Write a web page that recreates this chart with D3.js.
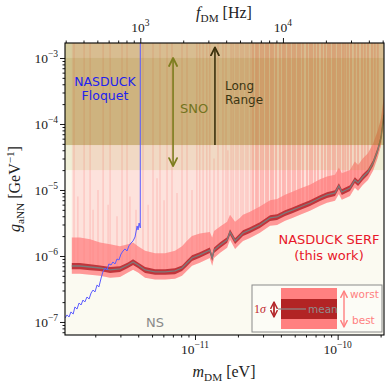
<!DOCTYPE html>
<html><head><meta charset="utf-8">
<script src="https://cdn.jsdelivr.net/npm/d3@7"></script>
<style>body{margin:0;background:#fff}</style>
</head><body><svg id="c" width="389" height="384"></svg>
<script>
// ---------------- data ----------------
const serfMass = [1.37e-12,1.56e-12,1.84e-12,2.16e-12,2.54e-12,2.98e-12,3.39e-12,3.68e-12,3.99e-12,4.47e-12,5.25e-12,6.17e-12,7.24e-12,8.11e-12,8.79e-12,9.53e-12,1.08e-11,1.27e-11,1.32e-11,1.36e-11,1.50e-11,1.68e-11,1.76e-11,1.91e-11,2.07e-11,2.17e-11,2.43e-11,2.85e-11,3.36e-11,3.76e-11,4.28e-11,4.86e-11,5.45e-11,6.40e-11,7.52e-11,8.42e-11,9.58e-11,1.02e-10,1.07e-10,1.22e-10,1.32e-10,1.39e-10,1.50e-10,1.63e-10,1.77e-10,1.91e-10,2.01e-10,2.11e-10];
const serfMean = [7.05e-7,7.05e-7,6.81e-7,6.58e-7,6.14e-7,6.36e-7,7.31e-7,8.11e-7,7.31e-7,6.14e-7,5.73e-7,5.73e-7,5.93e-7,6.58e-7,7.83e-7,9.33e-7,1.04e-6,1.23e-6,9.33e-7,1.23e-6,1.47e-6,1.75e-6,2.31e-6,1.69e-6,2.01e-6,2.23e-6,2.48e-6,2.95e-6,3.77e-6,3.90e-6,4.49e-6,4.98e-6,5.52e-6,6.35e-6,7.57e-6,8.40e-6,9.01e-6,1.15e-5,9.33e-6,1.07e-5,1.42e-5,1.28e-5,1.57e-5,1.87e-5,2.56e-5,4.04e-5,6.14e-5,1.37e-4];
const serfSigHi = [7.8e-7,7.8e-7,7.5e-7,7.2e-7,6.8e-7,7.0e-7,8.0e-7,8.9e-7,8.0e-7,6.8e-7,6.3e-7,6.3e-7,6.5e-7,7.2e-7,8.6e-7,1.03e-6,1.14e-6,1.35e-6,1.03e-6,1.35e-6,1.62e-6,1.93e-6,2.54e-6,1.86e-6,2.21e-6,2.45e-6,2.73e-6,3.25e-6,4.15e-6,4.29e-6,4.94e-6,5.48e-6,6.07e-6,6.99e-6,8.33e-6,9.24e-6,9.91e-6,1.27e-5,1.03e-5,1.18e-5,1.56e-5,1.41e-5,1.73e-5,2.06e-5,2.82e-5,4.44e-5,6.75e-5,1.51e-4];
const serfSigLo = [6.3e-7,6.3e-7,6.1e-7,5.9e-7,5.5e-7,5.7e-7,6.6e-7,7.3e-7,6.6e-7,5.5e-7,5.2e-7,5.2e-7,5.3e-7,5.9e-7,7.0e-7,8.4e-7,9.4e-7,1.11e-6,8.4e-7,1.11e-6,1.32e-6,1.58e-6,2.08e-6,1.52e-6,1.81e-6,2.01e-6,2.23e-6,2.66e-6,3.39e-6,3.51e-6,4.04e-6,4.48e-6,4.97e-6,5.72e-6,6.81e-6,7.56e-6,8.11e-6,1.04e-5,8.4e-6,9.63e-6,1.28e-5,1.15e-5,1.41e-5,1.68e-5,2.30e-5,3.64e-5,5.53e-5,1.23e-4];
const serfBest = [5.4e-7,5.4e-7,5.2e-7,5.0e-7,4.7e-7,4.8e-7,5.6e-7,6.2e-7,5.6e-7,4.7e-7,4.4e-7,4.4e-7,4.5e-7,5.0e-7,6.0e-7,7.1e-7,7.9e-7,9.3e-7,7.1e-7,9.3e-7,1.12e-6,1.33e-6,1.76e-6,1.28e-6,1.53e-6,1.69e-6,1.88e-6,2.24e-6,2.87e-6,2.96e-6,3.41e-6,3.78e-6,4.20e-6,4.83e-6,5.75e-6,6.38e-6,6.85e-6,8.7e-6,7.1e-6,8.1e-6,1.08e-5,9.7e-6,1.19e-5,1.42e-5,1.95e-5,3.07e-5,4.67e-5,1.04e-4];
const serfWorst = [1.9e-6,1.9e-6,1.8e-6,1.6e-6,1.5e-6,1.4e-6,1.5e-6,1.6e-6,1.4e-6,1.2e-6,1.1e-6,1.1e-6,1.2e-6,1.4e-6,1.7e-6,2.0e-6,2.2e-6,2.3e-6,1.9e-6,2.4e-6,2.8e-6,3.3e-6,4.2e-6,3.3e-6,3.8e-6,4.2e-6,4.7e-6,5.6e-6,7.0e-6,7.3e-6,8.5e-6,9.5e-6,1.05e-5,1.2e-5,1.45e-5,1.6e-5,1.7e-5,2.2e-5,1.8e-5,2.0e-5,2.7e-5,2.4e-5,3.0e-5,3.6e-5,5.0e-5,8.0e-5,1.2e-4,2.6e-4];
const spikeMass = [1.42e-12,1.51e-12,1.67e-12,1.84e-12,1.93e-12,2.09e-12,2.27e-12,2.46e-12,2.54e-12,2.84e-12,3.08e-12,3.34e-12,3.50e-12,3.86e-12,4.32e-12,4.69e-12,5.08e-12,5.42e-12,5.69e-12,6.07e-12,6.37e-12,6.90e-12,7.48e-12,8.11e-12,8.79e-12,9.53e-12,1.03e-11,1.08e-11,1.14e-11,1.21e-11,1.27e-11,1.36e-11,1.45e-11,1.57e-11,1.65e-11,1.70e-11,1.79e-11,1.85e-11,1.94e-11,2.00e-11,2.10e-11,2.17e-11,2.28e-11,2.35e-11,2.47e-11,2.55e-11,2.68e-11,2.76e-11,2.90e-11,3.00e-11,3.15e-11,3.25e-11,3.41e-11,3.52e-11,3.70e-11,3.94e-11,4.14e-11,4.27e-11,4.49e-11,4.63e-11,4.86e-11,5.02e-11,5.27e-11,5.44e-11,5.71e-11,6.10e-11,6.40e-11,6.61e-11,6.93e-11,7.28e-11,7.76e-11,8.15e-11,8.55e-11,8.83e-11,9.27e-11,9.57e-11,1.005e-10,1.04e-10,1.09e-10,1.13e-10,1.18e-10,1.24e-10,1.32e-10,1.39e-10,1.48e-10,1.55e-10,1.63e-10,1.74e-10,1.82e-10,1.91e-10];
const spikeTop = [2e-3,8e-6,2e-3,2e-3,5e-6,1e-5,2e-3,6e-6,2e-3,4e-6,2e-3,2e-3,8e-6,5e-6,2e-3,6e-6,2e-3,1.5e-5,2e-3,7e-6,2e-3,2e-3,9e-6,2e-3,2e-3,1e-5,2e-3,2e-3,2e-3,2e-3,2e-3,3e-5,2e-3,2e-3,2e-3,4e-5,2e-3,2e-3,2e-3,2e-3,2e-3,2e-3,2e-3,2e-3,2e-3,2e-3,2e-3,2e-3,2e-3,2e-3,2e-3,2e-3,2e-3,2e-3,2e-3,2e-3,2e-3,2e-3,2e-3,2e-3,2e-3,2e-3,2e-3,2e-3,2e-3,2e-3,2e-3,2e-3,2e-3,2e-3,2e-3,2e-3,2e-3,2e-3,2e-3,2e-3,2e-3,2e-3,2e-3,2e-3,2e-3,2e-3,2e-3,2e-3,2e-3,2e-3,2e-3,2e-3,2e-3,2e-3];
const floquetMass = [1.227e-12,1.268e-12,1.31e-12,1.35e-12,1.40e-12,1.44e-12,1.49e-12,1.54e-12,1.59e-12,1.64e-12,1.69e-12,1.75e-12,1.81e-12,1.87e-12,1.93e-12,1.99e-12,2.06e-12,2.12e-12,2.19e-12,2.26e-12,2.34e-12,2.42e-12,2.49e-12,2.58e-12,2.66e-12,2.75e-12,2.84e-12,2.93e-12,3.03e-12,3.13e-12,3.23e-12,3.34e-12,3.44e-12,3.56e-12,3.68e-12,3.80e-12,3.93e-12,3.99e-12,4.06e-12,4.136e-12,4.136e-12];
const floquetG = [1.15e-7,1.28e-7,1.19e-7,1.42e-7,1.32e-7,1.69e-7,1.57e-7,1.94e-7,1.81e-7,2.15e-7,2.01e-7,2.39e-7,2.23e-7,2.75e-7,3.05e-7,2.85e-7,3.64e-7,3.39e-7,4.49e-7,5.73e-7,6.58e-7,6.14e-7,7.57e-7,7.31e-7,8.11e-7,7.57e-7,9.01e-7,8.70e-7,1.07e-6,1.19e-6,1.28e-6,1.19e-6,1.42e-6,1.57e-6,1.69e-6,1.94e-6,2.85e-6,2.48e-6,3.16e-6,2.66e-6,2e-3];
const snoLimit = 2.0e-5;
const longRangeLimit = 4.8e-5;
const upperRef = 1e-3;
const snoArrow = {m: 7.02e-12, from: 1.0e-3, to: 2.3e-5};
const longRangeArrow = {m: 1.38e-11, from: 4.8e-5, to: 1.45e-3};
const xTicks = [1e-11, 1e-10];
const xTickExp = ["\u221211", "\u221210"];
const fTicks = [1e3, 1e4];
const fTickExp = ["3", "4"];
const yTicks = [1e-7, 1e-6, 1e-5, 1e-4, 1e-3];
const yTickExp = ["\u22127", "\u22126", "\u22125", "\u22124", "\u22123"];
const hzPerEv = 2.418e14;
const massDomain = [1.227e-12, 2.113e-10];
const gDomain = [6.35e-8, 1.687e-3];

// ---------------- layout ----------------
const L = 65, R = 384, T = 43, B = 335;
const svg = d3.select('#c');
const x = d3.scaleLog().domain(massDomain).range([L, R]);
const fx = d3.scaleLog().domain(massDomain.map(m => m * hzPerEv)).range([L, R]);
const y = d3.scaleLog().domain(gDomain).range([B, T]);
const serif = "'Liberation Serif', 'DejaVu Serif', serif";
const sans = "'DejaVu Sans', sans-serif";

const defs = svg.append('defs');
defs.append('clipPath').attr('id', 'clip').append('rect')
  .attr('x', L).attr('y', T).attr('width', R - L).attr('height', B - T);
function marker(id, color, w, h) {
  defs.append('marker').attr('id', id).attr('viewBox', '0 0 10 10')
    .attr('refX', 9).attr('refY', 5).attr('markerWidth', w).attr('markerHeight', h)
    .attr('orient', 'auto-start-reverse').attr('markerUnits', 'userSpaceOnUse')
    .append('path').attr('d', 'M1,1 L9,5 L1,9').attr('fill', 'none')
    .attr('stroke', color).attr('stroke-width', 1.8).attr('stroke-linecap', 'round').attr('stroke-linejoin', 'round');
}
marker('mSno', '#7d7d1e', 10, 10);
marker('mLr', '#3b300c', 10, 10);
marker('mDark', '#b3262a', 8, 8);
marker('mLight', '#ff8080', 8, 8);

svg.append('rect').attr('x', L).attr('y', T).attr('width', R - L).attr('height', B - T).attr('fill', '#fbfaf1');

const g = svg.append('g').attr('clip-path', 'url(#clip)');
const idx = d3.range(serfMass.length);
const topVal = gDomain[1] * 1.5;

// pale pink region above the limit
g.append('path').attr('fill', '#fde2dc')
  .attr('d', d3.area().x(i => x(serfMass[i])).y0(i => y(serfBest[i])).y1(() => y(topVal))(idx));

// spikes (worst-case excursions)
const lm = serfMass.map(Math.log10), lg = serfMean.map(Math.log10);
function meanAt(m) {
  const v = Math.log10(m);
  let j = d3.bisectRight(lm, v) - 1; j = Math.max(0, Math.min(lm.length - 2, j));
  const t = (v - lm[j]) / (lm[j + 1] - lm[j]);
  return Math.pow(10, lg[j] + t * (lg[j + 1] - lg[j]));
}
g.selectAll('line.spike').data(d3.range(spikeMass.length)).join('line')
  .attr('x1', i => x(spikeMass[i])).attr('x2', i => x(spikeMass[i]))
  .attr('y1', i => y(meanAt(spikeMass[i]))).attr('y2', i => y(Math.min(spikeTop[i], topVal)))
  .attr('stroke', '#ff6f6f')
  .attr('stroke-width', i => spikeMass[i] > 2.5e-11 ? 2 : 1.5)
  .attr('stroke-opacity', i => spikeMass[i] > 2.5e-11 ? 0.36 : 0.22);

// worst-best band
g.append('path').attr('fill', '#ff7b7b').attr('fill-opacity', 0.7)
  .attr('d', d3.area().x(i => x(serfMass[i])).y0(i => y(serfBest[i])).y1(i => y(serfWorst[i]))(idx));
// 1 sigma band
g.append('path').attr('fill', '#b5232a').attr('fill-opacity', 0.85)
  .attr('d', d3.area().x(i => x(serfMass[i])).y0(i => y(serfSigLo[i])).y1(i => y(serfSigHi[i]))(idx));
// mean
g.append('path').attr('fill', 'none').attr('stroke', '#7c7c7c').attr('stroke-width', 1.3)
  .attr('d', d3.line().x(i => x(serfMass[i])).y(i => y(serfMean[i]))(idx));

// exclusion bands (SNO / long range)
g.append('rect').attr('x', L).attr('width', R - L).attr('y', y(topVal)).attr('height', y(snoLimit) - y(topVal))
  .attr('fill', '#a0a028').attr('fill-opacity', 0.13);
g.append('rect').attr('x', L).attr('width', R - L).attr('y', y(upperRef)).attr('height', y(longRangeLimit) - y(upperRef))
  .attr('fill', '#977510').attr('fill-opacity', 0.38);
g.append('rect').attr('x', L).attr('width', R - L).attr('y', y(topVal)).attr('height', y(upperRef) - y(topVal))
  .attr('fill', '#977510').attr('fill-opacity', 0.28);

// Floquet
g.append('path').attr('fill', 'none').attr('stroke', '#5b5bff').attr('stroke-width', 1)
  .attr('d', d3.line().x(i => x(floquetMass[i])).y(i => y(floquetG[i]))(d3.range(floquetMass.length)));

// arrows
svg.append('line').attr('x1', x(snoArrow.m)).attr('x2', x(snoArrow.m))
  .attr('y1', y(snoArrow.from)).attr('y2', y(snoArrow.to))
  .attr('stroke', '#7d7d1e').attr('stroke-width', 1.6)
  .attr('marker-start', 'url(#mSno)').attr('marker-end', 'url(#mSno)');
svg.append('line').attr('x1', x(longRangeArrow.m)).attr('x2', x(longRangeArrow.m))
  .attr('y1', y(longRangeArrow.from)).attr('y2', y(longRangeArrow.to))
  .attr('stroke', '#3b300c').attr('stroke-width', 1.6)
  .attr('marker-end', 'url(#mLr)');

// annotations
function txt(xp, yp, s, color, size, anchor) {
  return svg.append('text').attr('x', xp).attr('y', yp).text(s).attr('fill', color)
    .attr('font-family', sans).attr('font-size', size).attr('text-anchor', anchor || 'start');
}
txt(105, 86, 'NASDUCK', '#2222ee', 12.5, 'middle');
txt(105, 100, 'Floquet', '#2222ee', 12.5, 'middle');
txt(180, 113, 'SNO', '#737320', 13);
txt(225, 90, 'Long', '#3b3512', 12);
txt(225, 104, 'Range', '#3b3512', 12);
txt(329, 244, 'NASDUCK SERF', '#e8182a', 13, 'middle');
txt(329, 260, '(this work)', '#e8182a', 13, 'middle');
txt(155, 327, 'NS', '#8a8a8a', 13, 'middle');

// legend
const lg0 = svg.append('g');
lg0.append('rect').attr('x', 252).attr('y', 285).attr('width', 130).attr('height', 47)
  .attr('fill', '#fcfcf6').attr('stroke', '#8a8a8a').attr('stroke-width', 1);
lg0.append('rect').attr('x', 281).attr('y', 288).attr('width', 56).attr('height', 41).attr('fill', '#ff8080');
lg0.append('rect').attr('x', 281).attr('y', 299).attr('width', 56).attr('height', 20).attr('fill', '#b22424');
lg0.append('line').attr('x1', 278).attr('x2', 306).attr('y1', 309).attr('y2', 309).attr('stroke', '#8a8a8a').attr('stroke-width', 1.2);
lg0.append('text').attr('x', 308).attr('y', 313).text('mean').attr('fill', '#8e8e8e').attr('font-family', sans).attr('font-size', 10.5);
const sig = lg0.append('text').attr('x', 254).attr('y', 313).attr('fill', '#c0282c').attr('font-family', serif).attr('font-size', 12);
sig.append('tspan').text('1');
sig.append('tspan').text('\u03c3').attr('font-style', 'italic');
lg0.append('line').attr('x1', 274).attr('x2', 274).attr('y1', 302).attr('y2', 317)
  .attr('stroke', '#b3262a').attr('stroke-width', 1.8)
  .attr('marker-start', 'url(#mDark)').attr('marker-end', 'url(#mDark)');
lg0.append('line').attr('x1', 344).attr('x2', 344).attr('y1', 291).attr('y2', 327)
  .attr('stroke', '#ff8080').attr('stroke-width', 1.4)
  .attr('marker-start', 'url(#mLight)').attr('marker-end', 'url(#mLight)');
lg0.append('text').attr('x', 350).attr('y', 298).text('worst').attr('fill', '#ff8080').attr('font-family', sans).attr('font-size', 10.5);
lg0.append('text').attr('x', 352).attr('y', 324).text('best').attr('fill', '#ff8080').attr('font-family', sans).attr('font-size', 10.5);

// ---------------- axes ----------------
function minorVals(dom, lo, hi) {
  const out = [];
  for (let e = lo; e <= hi; e++) for (let k = 2; k <= 9; k++) {
    const v = k * Math.pow(10, e);
    if (v > dom[0] && v < dom[1]) out.push(v);
  }
  return out;
}
function styleAxis(sel) {
  sel.select('.domain').remove();
  sel.selectAll('line').attr('stroke', '#000').attr('stroke-width', 0.9);
}
const noFmt = () => '';
svg.append('g').attr('transform', `translate(0,${B})`)
  .call(d3.axisBottom(x).tickValues(xTicks).tickSize(5).tickFormat(noFmt)).call(styleAxis);
svg.append('g').attr('transform', `translate(0,${B})`)
  .call(d3.axisBottom(x).tickValues(minorVals(massDomain, -13, -10)).tickSize(2.5).tickFormat(noFmt)).call(styleAxis);
const fDom = fx.domain();
svg.append('g').attr('transform', `translate(0,${T})`)
  .call(d3.axisTop(fx).tickValues(fTicks).tickSize(5).tickFormat(noFmt)).call(styleAxis);
svg.append('g').attr('transform', `translate(0,${T})`)
  .call(d3.axisTop(fx).tickValues(minorVals(fDom, 2, 4)).tickSize(2.5).tickFormat(noFmt)).call(styleAxis);
svg.append('g').attr('transform', `translate(${L},0)`)
  .call(d3.axisLeft(y).tickValues(yTicks).tickSize(5).tickFormat(noFmt)).call(styleAxis);
svg.append('g').attr('transform', `translate(${L},0)`)
  .call(d3.axisLeft(y).tickValues(minorVals(gDomain, -8, -3)).tickSize(2.5).tickFormat(noFmt)).call(styleAxis);

svg.append('rect').attr('x', L).attr('y', T).attr('width', R - L).attr('height', B - T)
  .attr('fill', 'none').attr('stroke', '#000').attr('stroke-width', 1.1);

function powLabel(xp, yp, exp, anchor) {
  const t = svg.append('text').attr('x', xp).attr('y', yp).attr('text-anchor', anchor)
    .attr('font-family', serif).attr('font-size', 13.5).attr('fill', '#222');
  t.append('tspan').text('10');
  t.append('tspan').text(exp).attr('font-size', 9.5).attr('dy', -6);
}
xTicks.forEach((v, i) => powLabel(x(v), 354, xTickExp[i], 'middle'));
fTicks.forEach((v, i) => powLabel(fx(v), 32, fTickExp[i], 'middle'));
yTicks.forEach((v, i) => powLabel(58, y(v) + 5, yTickExp[i], 'end'));

function mathLabel(xp, yp, parts, fs, rotate) {
  const t = svg.append('text').attr('x', xp).attr('y', yp).attr('text-anchor', 'middle')
    .attr('font-family', serif).attr('font-size', fs).attr('fill', '#222');
  if (rotate) t.attr('transform', `rotate(-90,${xp},${yp})`);
  let cur = 0;
  parts.forEach(p => {
    const shift = p.s === 'sub' ? 0.28 : p.s === 'sup' ? -0.4 : 0;
    const ts = t.append('tspan').text(p.t).attr('font-size', p.s ? fs * 0.7 : fs)
      .attr('font-style', p.i ? 'italic' : 'normal');
    const dy = (shift - cur) * fs;
    if (dy !== 0) ts.attr('dy', dy);
    cur = shift;
  });
}
mathLabel(224, 18, [{t: 'f', i: 1}, {t: 'DM', s: 'sub'}, {t: ' [Hz]'}], 16);
mathLabel(224, 377, [{t: 'm', i: 1}, {t: 'DM', s: 'sub'}, {t: ' [eV]'}], 16);
mathLabel(20, 189, [{t: 'g', i: 1}, {t: 'aNN', s: 'sub'}, {t: ' [GeV'}, {t: '\u22121', s: 'sup'}, {t: ']'}], 16, true);
</script>
</body></html>
